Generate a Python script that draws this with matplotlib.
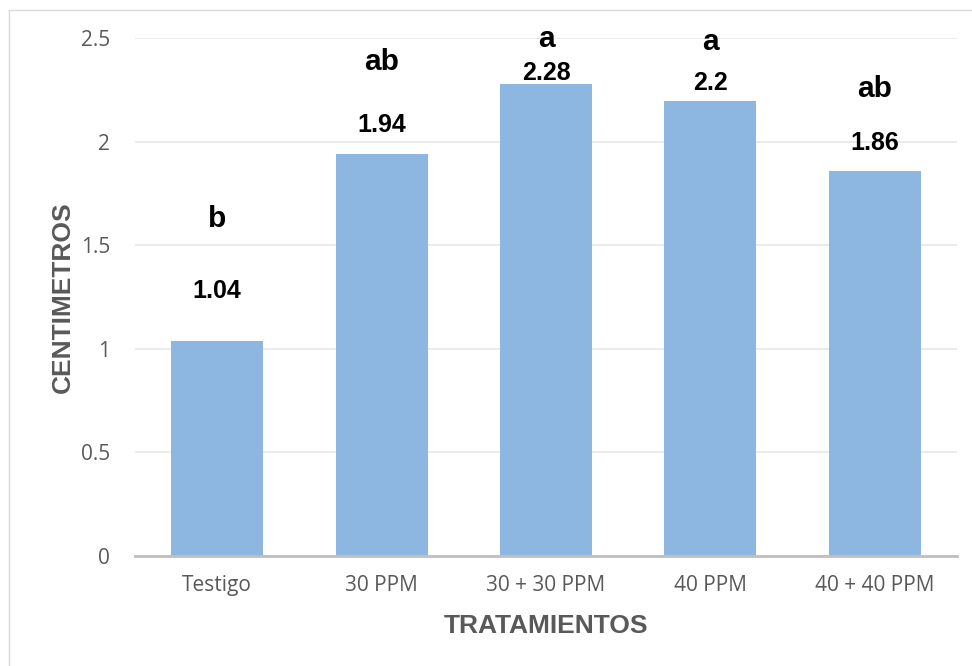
import matplotlib
matplotlib.use('Agg')
import matplotlib.pyplot as plt
from matplotlib.lines import Line2D

# datos
tratamientos = ['Testigo', '30 PPM', '30 + 30 PPM', '40 PPM', '40 + 40 PPM']
valores = [1.04, 1.94, 2.28, 2.2, 1.86]
letras = ['b', 'ab', 'a', 'a', 'ab']
# posicion (base del texto) de las etiquetas, en cm
y_valor = [1.245, 2.048, 2.30, 2.251, 1.961]
y_letra = [1.59, 2.348, 2.459, 2.444, 2.217]
y_ticks = [0, 0.5, 1, 1.5, 2, 2.5]
y_tick_labels = ['0', '0.5', '1', '1.5', '2', '2.5']

fig = plt.figure(figsize=(9.72, 6.66), dpi=100)
ax = fig.add_axes([0.1389, 0.1652, 0.8457, 0.777])

x = range(len(tratamientos))
ax.bar(x, valores, width=0.56, color='#8DB7E1', zorder=2)

for i in x:
    ax.text(i, y_valor[i], f'{valores[i]:g}', ha='center', va='baseline',
            fontsize=18, fontweight='bold', family='Liberation Sans',
            color='black', clip_on=False)
    ax.text(i, y_letra[i], letras[i], ha='center', va='baseline',
            fontsize=21.5, fontweight='bold', family='Liberation Sans',
            color='black', clip_on=False)

ax.set_xlim(-0.5, len(tratamientos) - 0.5)
ax.set_ylim(0, 2.5)
ax.set_yticks(y_ticks)
ax.set_yticklabels(y_tick_labels)
ax.set_xticks(list(x))
ax.set_xticklabels(tratamientos)
ax.tick_params(length=0, labelsize=15, labelcolor='#595959')
ax.tick_params(axis='y', pad=18)
ax.tick_params(axis='x', pad=14)
for lab in ax.get_xticklabels() + ax.get_yticklabels():
    lab.set_family('Open Sans')

ax.grid(axis='y', color='#E8E8E8', linewidth=1.2, zorder=0)
ax.set_axisbelow(True)
for s in ['top', 'right', 'left']:
    ax.spines[s].set_visible(False)
ax.spines['bottom'].set_color('#BFBFBF')
ax.spines['bottom'].set_linewidth(2)
ax.spines['bottom'].set_zorder(3)

ax.set_xlabel('TRATAMIENTOS', fontsize=19, fontweight='bold',
              family='Liberation Sans', color='#595959', labelpad=13)
ax.set_ylabel('CENTIMETROS', fontsize=19, fontweight='bold',
              family='Liberation Sans', color='#595959', labelpad=4)

# borde del grafico
fig.add_artist(Line2D([9 / 972, 9 / 972], [0, 1 - 10 / 666],
                      transform=fig.transFigure, color='#D9D9D9', linewidth=1))
fig.add_artist(Line2D([9 / 972, 1], [1 - 10 / 666, 1 - 10 / 666],
                      transform=fig.transFigure, color='#D9D9D9', linewidth=1))

fig.savefig('out.png', dpi=100)
